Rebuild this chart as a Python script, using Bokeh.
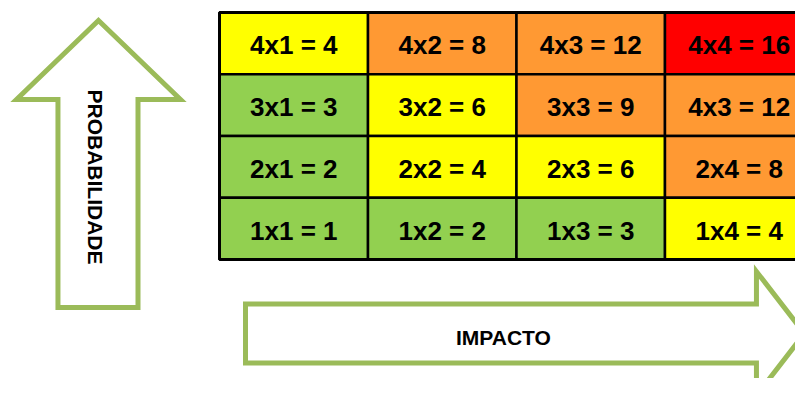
from bokeh.plotting import figure
from bokeh.models import Range1d, ColumnDataSource
from bokeh.core.properties import value
from bokeh.embed import file_html
from bokeh.resources import INLINE
import math

# ---- data ----
probabilidade = [4, 4, 4, 4, 3, 3, 3, 3, 2, 2, 2, 2, 1, 1, 1, 1]
impacto = [1, 2, 3, 4, 1, 2, 3, 4, 1, 2, 3, 4, 1, 2, 3, 4]
rotulos = ["4x1 = 4", "4x2 = 8", "4x3 = 12", "4x4 = 16",
           "3x1 = 3", "3x2 = 6", "3x3 = 9", "4x3 = 12",
           "2x1 = 2", "2x2 = 4", "2x3 = 6", "2x4 = 8",
           "1x1 = 1", "1x2 = 2", "1x3 = 3", "1x4 = 4"]
nivel = ["medio", "alto", "alto", "critico",
         "baixo", "medio", "alto", "alto",
         "baixo", "medio", "medio", "alto",
         "baixo", "baixo", "baixo", "medio"]
eixo_x = "IMPACTO"
eixo_y = "PROBABILIDADE"

cores = {"baixo": "#92D050", "medio": "#FFFF00", "alto": "#FF9933", "critico": "#FF0000"}
arrow_color = "#9BBB59"

src = ColumnDataSource(dict(x=impacto, y=probabilidade, label=rotulos,
                            color=[cores[n] for n in nivel]))

p = figure(width=795, height=378, output_backend="svg", toolbar_location=None,
           x_range=Range1d(-0.975, 4.379), y_range=Range1d(-1.427, 4.694),
           min_border=0, background_fill_color="white", border_fill_color="white")
p.axis.visible = False
p.grid.visible = False
p.outline_line_color = None

# ---- arrows (decorative, in grid units) ----
up_x = [-0.315, 0.237, -0.049, -0.049, -0.588, -0.588, -0.867]
up_y = [4.370, 3.091, 3.091, -0.277, -0.277, 3.091, 3.091]
p.patch(up_x, up_y, fill_color="white", line_color=arrow_color, line_width=5,
        line_join="miter")

rt_x = [0.675, 4.116, 4.116, 4.439, 4.116, 4.116, 0.675]
rt_y = [-0.221, -0.221, 0.306, -0.698, -1.702, -1.176, -1.176]
p.patch(rt_x, rt_y, fill_color="white", line_color=arrow_color, line_width=5,
        line_join="miter")

# ---- matrix ----
p.rect(x="x", y="y", width=1, height=1, source=src, fill_color="color",
       line_color="black", line_width=2.5)
p.rect(x=[2.5], y=[2.5], width=4, height=4, fill_color=None,
       line_color="black", line_width=3)

p.text(x="x", y="y", text="label", source=src, text_align="center",
       text_baseline="middle", text_font=value("Liberation Sans"),
       text_font_style="bold", text_font_size="26px", text_color="black",
       y_offset=2)

# ---- axis labels ----
p.text(x=[2.412], y=[-0.763], text=[eixo_x], text_align="center",
       text_baseline="middle", text_font=value("Liberation Sans"),
       text_font_style="bold", text_font_size="21px", text_color="black")
p.text(x=[-0.338], y=[1.836], text=[eixo_y], angle=-math.pi / 2,
       text_align="center", text_baseline="middle",
       text_font=value("Liberation Sans"), text_font_style="bold",
       text_font_size="21px", text_color="black")

open("out.html", "w").write(file_html(p, INLINE))
